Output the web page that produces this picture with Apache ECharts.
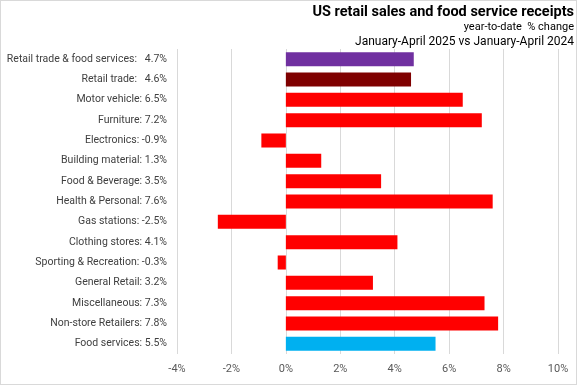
<!DOCTYPE html>
<html><head><meta charset="utf-8">
<script src="https://cdn.jsdelivr.net/npm/echarts@6/dist/echarts.min.js"></script>
<style>html,body{margin:0;padding:0;background:#fff}#c{width:577px;height:385px;box-sizing:border-box;border:1px solid #d9d9d9}</style>
</head><body><div id="c"></div>
<script>
const categories = ["Retail trade & food services:   4.7%","Retail trade:   4.6%","Motor vehicle: 6.5%","Furniture: 7.2%","Electronics: -0.9%","Building material: 1.3%","Food & Beverage: 3.5%","Health & Personal: 7.6%","Gas stations: -2.5%","Clothing stores: 4.1%","Sporting & Recreation: -0.3%","General Retail: 3.2%","Miscellaneous: 7.3%","Non-store Retailers: 7.8%","Food services: 5.5%"];
const values = [4.7,4.6,6.5,7.2,-0.9,1.3,3.5,7.6,-2.5,4.1,-0.3,3.2,7.3,7.8,5.5];
const barColors = ["#7030A0","#7F0000","#FF0000","#FF0000","#FF0000","#FF0000","#FF0000","#FF0000","#FF0000","#FF0000","#FF0000","#FF0000","#FF0000","#FF0000","#00B0F0"];
const titleText = "US retail sales and food service receipts";
const subText1 = "year-to-date  % change";
const subText2 = "January-April 2025 vs January-April 2024";
const font = "Roboto";
const chart = echarts.init(document.getElementById('c'));
chart.setOption({
  animation:false,
  textStyle:{fontFamily:font},
  graphic:[
    {type:'text',right:2,top:4,style:{text:titleText,font:'bold 14.5px "'+font+'"',fill:'#000'}},
    {type:'text',right:2,top:21,style:{text:subText1,font:'11px "'+font+'"',fill:'#000'}},
    {type:'text',right:2,top:35,style:{text:subText2,font:'12px "'+font+'"',fill:'#000'}}
  ],
  grid:{left:176,right:18,top:48,bottom:30,outerBoundsMode:'none',containLabel:false},
  xAxis:{type:'value',min:-4,max:10,interval:2,
    axisLabel:{formatter:v=>v+'%',color:'#595959',fontSize:11,margin:10},
    axisLine:{show:false},axisTick:{show:false},
    splitLine:{lineStyle:{color:'#d9d9d9'}}},
  yAxis:{type:'category',data:categories,inverse:true,
    axisLine:{show:false},axisTick:{show:false},
    axisLabel:{color:'#404040',fontSize:10.5,margin:10}},
  series:[{type:'bar',data:values.map((v,i)=>({value:v,itemStyle:{color:barColors[i]}})),barCategoryGap:'31%'}]
});
</script></body></html>
